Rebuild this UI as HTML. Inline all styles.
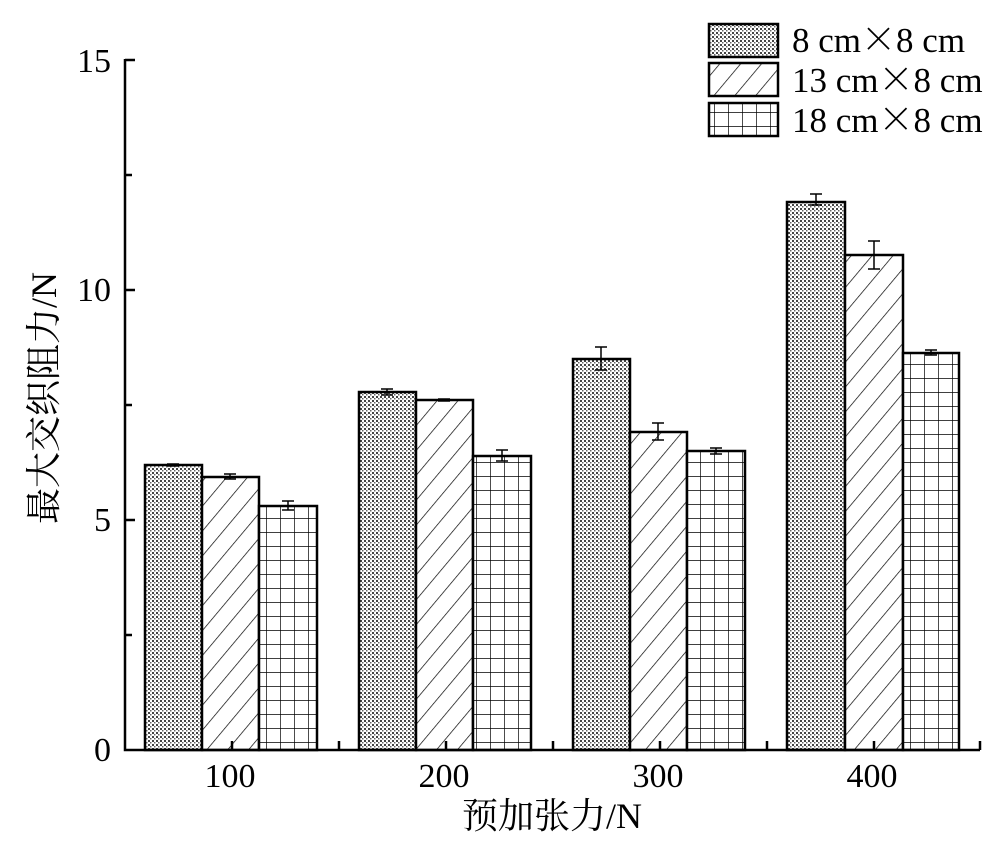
<!DOCTYPE html>
<html><head><meta charset="utf-8"><style>
html,body{margin:0;padding:0;background:#fff;}
svg text{font-family:"Liberation Serif","Noto Serif CJK SC",serif;fill:#000;}
.x{font-family:"Noto Sans CJK SC",sans-serif;font-weight:300;}
</style></head><body>
<svg width="1000" height="854" viewBox="0 0 1000 854" xmlns="http://www.w3.org/2000/svg">
<defs>
<pattern id="dots" width="4" height="4" patternUnits="userSpaceOnUse">
<rect width="4" height="4" fill="#fff"/><rect x="0" y="0" width="2" height="2" fill="#444"/><rect x="2" y="2" width="1.5" height="1.5" fill="#666"/>
</pattern>
<pattern id="diag" width="16" height="16" patternUnits="userSpaceOnUse" patternTransform="rotate(-50)">
<rect width="16" height="16" fill="#fff"/><line x1="0" y1="0" x2="16" y2="0" stroke="#000" stroke-width="1.4"/>
</pattern>
<pattern id="grid" width="14" height="14" patternUnits="userSpaceOnUse">
<rect width="14" height="14" fill="#fff"/><path d="M0 0H14M0 0V14" stroke="#000" stroke-width="1.4" fill="none"/>
</pattern>
</defs>
<g stroke="#000" stroke-width="2.5">
<rect x="145" y="465" width="57" height="285" fill="url(#dots)"/>
<rect x="202" y="477" width="57" height="273" fill="url(#diag)"/>
<rect x="259" y="506" width="58" height="244" fill="url(#grid)"/>
<rect x="359" y="392" width="57" height="358" fill="url(#dots)"/>
<rect x="416" y="400" width="57" height="350" fill="url(#diag)"/>
<rect x="473" y="456" width="58" height="294" fill="url(#grid)"/>
<rect x="573" y="359" width="57" height="391" fill="url(#dots)"/>
<rect x="630" y="432" width="57" height="318" fill="url(#diag)"/>
<rect x="687" y="451" width="58" height="299" fill="url(#grid)"/>
<rect x="787" y="202" width="58" height="548" fill="url(#dots)"/>
<rect x="845" y="255" width="58" height="495" fill="url(#diag)"/>
<rect x="903" y="353" width="56" height="397" fill="url(#grid)"/>
</g>
<g stroke="#000" stroke-width="1.5" fill="none">
<path d="M173 464v2M167 464h12M167 466h12"/>
<path d="M230 474v5M224 474h12M224 479h12"/>
<path d="M288 501v9M282 501h12M282 510h12"/>
<path d="M387 389v6M381 389h12M381 395h12"/>
<path d="M444 399v2M438 399h12M438 401h12"/>
<path d="M502 450v11M496 450h12M496 461h12"/>
<path d="M601 347v23M595 347h12M595 370h12"/>
<path d="M658 423v17M652 423h12M652 440h12"/>
<path d="M716 448v6M710 448h12M710 454h12"/>
<path d="M816 194v11M810 194h12M810 205h12"/>
<path d="M874 241v28M868 241h12M868 269h12"/>
<path d="M931 350v5M925 350h12M925 355h12"/>
</g>
<g stroke="#000" stroke-width="2.5" fill="none">
<path d="M125 59V750H980"/>
<path d="M125 60h10M125 175h7M125 290h10M125 405h7M125 520h10M125 635h7"/>
<path d="M232 750v-9M339 750v-9M446 750v-9M553 750v-9M660 750v-9M767 750v-9M874 750v-9M980 750v-9"/>
</g>
<g font-size="34" text-anchor="end">
<text x="111" y="72">15</text><text x="111" y="301">10</text><text x="111" y="531">5</text><text x="111" y="761">0</text>
</g>
<g font-size="34" text-anchor="middle">
<text x="230" y="787">100</text><text x="444" y="787">200</text><text x="658" y="787">300</text><text x="872" y="787">400</text>
<text x="552" y="828" font-size="36">预加张力/N</text>
</g>
<text transform="translate(56,398) rotate(-90)" font-size="36" text-anchor="middle">最大交织阻力/N</text>
<g stroke="#000" stroke-width="2.5">
<rect x="709" y="24" width="69" height="33" fill="url(#dots)"/>
<rect x="709" y="63" width="69" height="33" fill="url(#diag)"/>
<rect x="709" y="103" width="69" height="33" fill="url(#grid)"/>
</g>
<g font-size="35">
<text x="792" y="52">8 cm<tspan class="x">×</tspan>8 cm</text>
<text x="792" y="92">13 cm<tspan class="x">×</tspan>8 cm</text>
<text x="792" y="132">18 cm<tspan class="x">×</tspan>8 cm</text>
</g>
</svg>
</body></html>
